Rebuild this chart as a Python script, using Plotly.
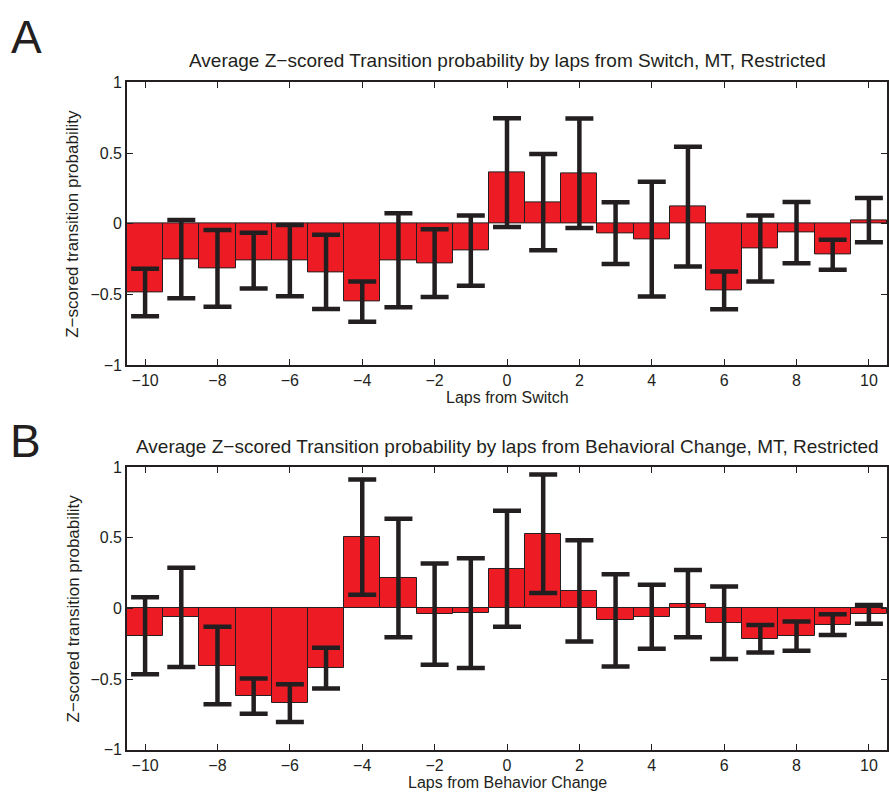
import plotly.graph_objects as go

laps = list(range(-10, 11))

# Panel A: laps from Switch
a_mean = [-0.485, -0.25, -0.315, -0.26, -0.26, -0.34, -0.55, -0.258, -0.278, -0.19,
          0.362, 0.153, 0.357, -0.066, -0.108, 0.121, -0.471, -0.175, -0.062, -0.219, 0.026]
a_err = [0.168, 0.276, 0.272, 0.197, 0.252, 0.263, 0.142, 0.332, 0.24, 0.248,
         0.385, 0.34, 0.387, 0.218, 0.406, 0.423, 0.133, 0.233, 0.217, 0.106, 0.157]

# Panel B: laps from Behavior Change
b_mean = [-0.193, -0.063, -0.404, -0.62, -0.67, -0.423, 0.504, 0.215, -0.04, -0.034,
          0.281, 0.528, 0.124, -0.084, -0.059, 0.034, -0.101, -0.215, -0.196, -0.115, -0.042]
b_err = [0.272, 0.351, 0.274, 0.125, 0.133, 0.144, 0.407, 0.419, 0.358, 0.388,
         0.41, 0.419, 0.358, 0.326, 0.226, 0.237, 0.256, 0.097, 0.103, 0.073, 0.067]

title_a = "Average Z\u2212scored Transition probability by laps from Switch, MT, Restricted"
title_b = "Average Z\u2212scored Transition probability by laps from Behavioral Change, MT, Restricted"
xlabel_a = "Laps from Switch"
xlabel_b = "Laps from Behavior Change"
ylabel = "Z\u2212scored transition probability"

W, H = 889, 797
INK = "#231f20"
RED = "#ed1c24"
FONT = "Liberation Sans"

x0, x1 = 127, 887
ya_top, ya_bot = 76, 365
yb_top, yb_bot = 469, 758

def px(x):
    return x / W

def py(y):
    return 1 - y / H

fig = go.Figure()

for mean, err, xa, ya in [(a_mean, a_err, "x", "y"), (b_mean, b_err, "x2", "y2")]:
    fig.add_trace(go.Bar(
        x=laps, y=mean, xaxis=xa, yaxis=ya, width=1,
        marker=dict(color=RED, line=dict(color=INK, width=1)),
        error_y=dict(type="data", array=err, visible=True, color=INK,
                     thickness=4.5, width=14),
        showlegend=False,
    ))

axis_common = dict(
    showline=True, linecolor=INK, linewidth=1.6, mirror="ticks",
    ticks="inside", ticklen=6, tickwidth=1, tickcolor=INK,
    showgrid=False, zeroline=False,
    tickfont=dict(family=FONT, size=16, color=INK),
)

fig.update_layout(
    width=W, height=H,
    margin=dict(l=0, r=0, t=0, b=0),
    paper_bgcolor="white", plot_bgcolor="white",
    bargap=0,
    xaxis=dict(domain=[px(x0), px(x1)], anchor="y", range=[-10.5, 10.5],
               tickmode="linear", tick0=0, dtick=2, **axis_common),
    yaxis=dict(domain=[py(ya_bot), py(ya_top)], anchor="x", range=[-1, 1],
               tickmode="linear", tick0=0, dtick=0.5, **axis_common),
    xaxis2=dict(domain=[px(x0), px(x1)], anchor="y2", range=[-10.5, 10.5],
                tickmode="linear", tick0=0, dtick=2, **axis_common),
    yaxis2=dict(domain=[py(yb_bot), py(yb_top)], anchor="x2", range=[-1, 1],
                tickmode="linear", tick0=0, dtick=0.5, **axis_common),
)

xc = px((x0 + x1) / 2)
ann = [
    dict(text="A", x=px(26), y=py(30), font=dict(size=46)),
    dict(text="B", x=px(25), y=py(442), font=dict(size=46)),
    dict(text=title_a, x=xc, y=py(54), font=dict(size=19)),
    dict(text=title_b, x=xc, y=py(448), font=dict(size=19)),
    dict(text=xlabel_a, x=xc, y=py(398), font=dict(size=16)),
    dict(text=xlabel_b, x=xc, y=py(791), font=dict(size=16)),
    dict(text=ylabel, x=px(73), y=py((ya_top + ya_bot) / 2), font=dict(size=17), textangle=-90),
    dict(text=ylabel, x=px(73), y=py((yb_top + yb_bot) / 2), font=dict(size=17), textangle=-90),
]
for a in ann:
    f = a.pop("font")
    f.update(family=FONT, color=INK)
    fig.add_annotation(xref="paper", yref="paper", xanchor="center", yanchor="middle",
                       showarrow=False, font=f, **a)

fig.write_html("out.html")
